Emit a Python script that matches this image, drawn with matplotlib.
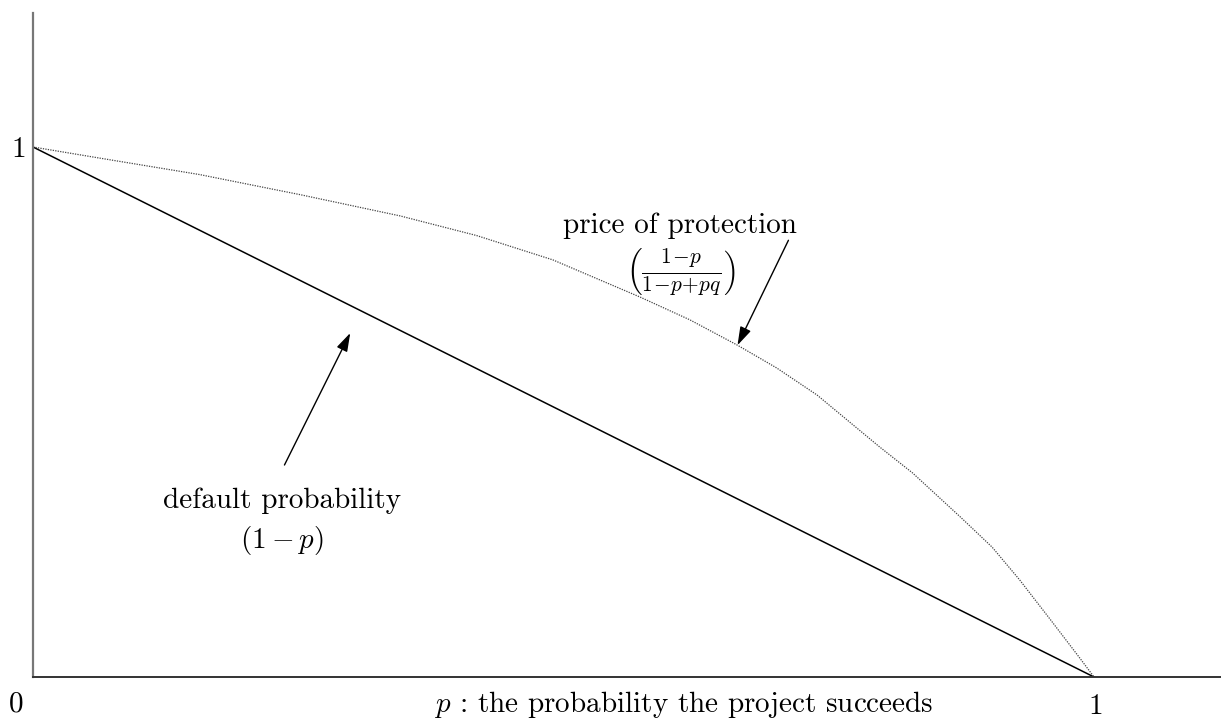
import matplotlib
matplotlib.use('Agg')
import matplotlib.pyplot as plt

plt.rcParams['font.family'] = 'serif'
plt.rcParams['font.serif'] = ['cmr10']
plt.rcParams['mathtext.fontset'] = 'cm'
plt.rcParams['axes.unicode_minus'] = False

# default probability (1 - p): straight line
p_line = [0.0, 1.0]
default_prob = [1.0, 0.0]

# price of protection
p_curve = [0.0, 0.063, 0.157, 0.252, 0.346, 0.418, 0.490, 0.572, 0.619,
           0.664, 0.701, 0.739, 0.798, 0.829, 0.874, 0.904, 0.930, 0.959,
           0.985, 1.0]
price = [1.0, 0.979, 0.948, 0.910, 0.870, 0.833, 0.787, 0.717, 0.674,
         0.626, 0.583, 0.532, 0.434, 0.385, 0.302, 0.245, 0.183, 0.108,
         0.040, 0.0]

W, H = 1221, 724
fig = plt.figure(figsize=(W / 100, H / 100), dpi=100)
ax = fig.add_axes([33 / W, (H - 677) / H, (W - 33) / W, (677 - 13) / H])

ax.plot(p_line, default_prob, color='black', lw=1.1)
ax.plot(p_curve, price, color='#444444', lw=0.9, linestyle=(0, (1, 1)))

ax.set_xlim(0, (W - 33) / 1061)
ax.set_ylim(0, (677 - 13) / 530)

for s in ['top', 'right']:
    ax.spines[s].set_visible(False)
ax.spines['left'].set_color('#777777')
ax.spines['bottom'].set_color('#333333')
ax.spines['left'].set_linewidth(1.6)
ax.spines['bottom'].set_linewidth(1.4)

fs = 21
ax.set_xticks([])
ax.set_yticks([1])
ax.set_yticklabels(['1'])
ax.tick_params(axis='y', length=0, labelsize=fs, pad=5)

ax.text(-0.016, -0.051, '0', fontsize=fs, ha='center', va='center',
        clip_on=False)
ax.text(1.002, -0.057, '1', fontsize=fs, ha='center', va='center',
        clip_on=False)
ax.text(0.613, -0.052, r'$p$ : the probability the project succeeds',
        fontsize=fs, ha='center', va='center', clip_on=False)

arrow = dict(arrowstyle='-|>,head_length=0.8,head_width=0.25',
             color='black', lw=1.0, mutation_scale=14, shrinkA=0, shrinkB=0)

ax.annotate('', xy=(0.664, 0.626), xytext=(0.712, 0.824), arrowprops=arrow)
ax.text(0.610, 0.851, 'price of protection', fontsize=fs,
        ha='center', va='center')
ax.text(0.610, 0.764,
        r'$\left(\frac{1\!-\!p}{1\!-\!p\!+\!pq}\right)$',
        fontsize=fs + 1, ha='center', va='center')

ax.annotate('', xy=(0.299, 0.649), xytext=(0.237, 0.400), arrowprops=arrow)
ax.text(0.235, 0.332, 'default probability', fontsize=fs,
        ha='center', va='center')
ax.text(0.235, 0.258, r'$(1-p)$', fontsize=fs, ha='center', va='center')

fig.savefig('out.png', dpi=100)
